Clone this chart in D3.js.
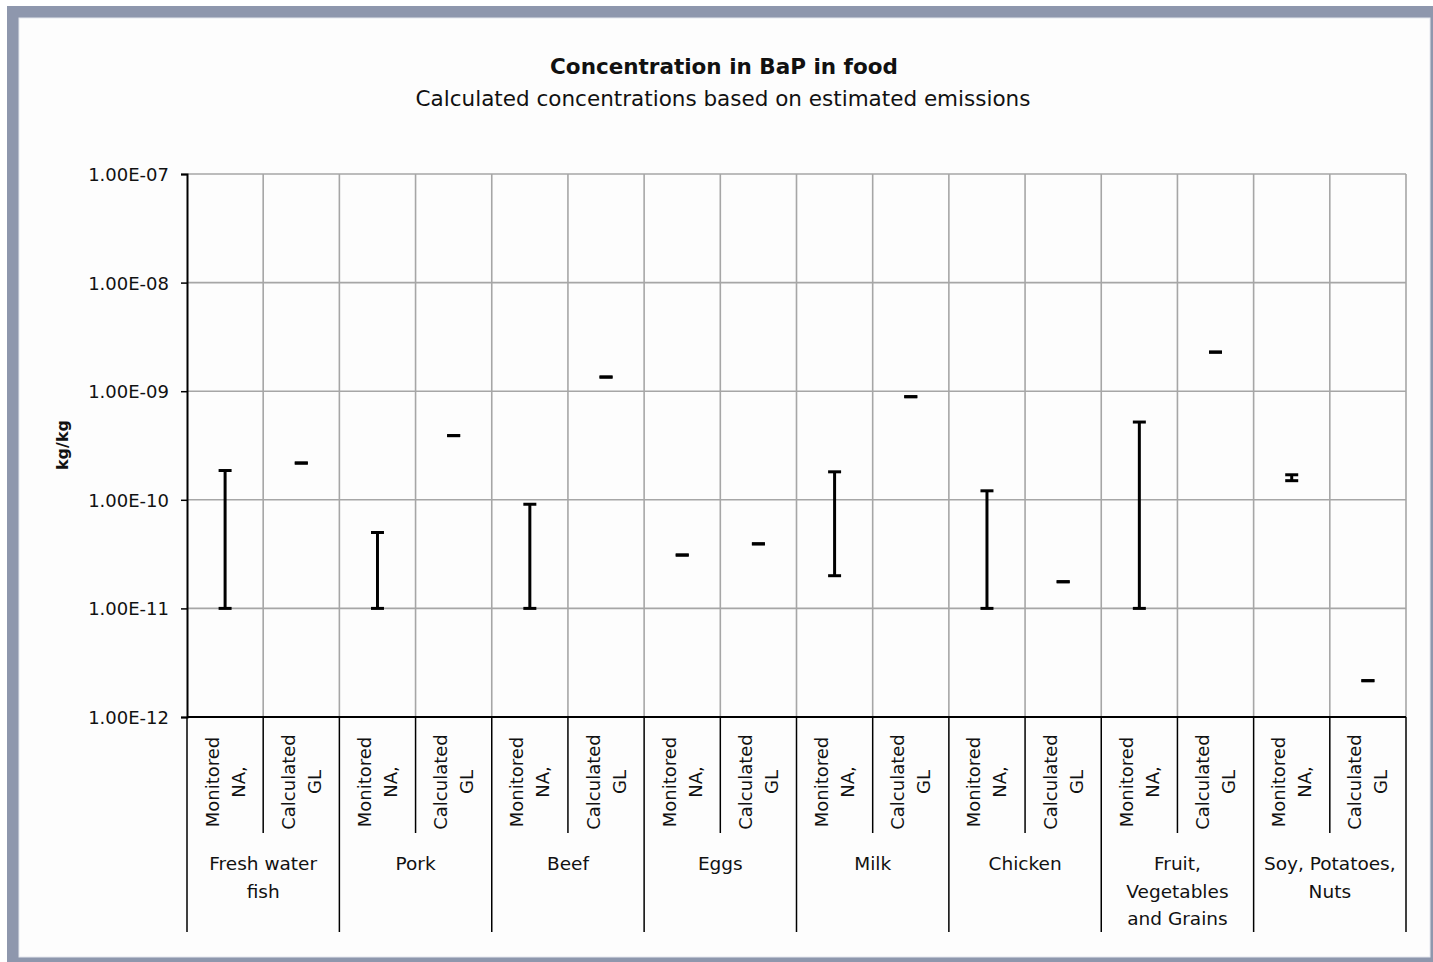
<!DOCTYPE html>
<html>
<head>
<meta charset="utf-8">
<script src="https://cdn.jsdelivr.net/npm/d3@7"></script>
<style>
  html, body { margin: 0; padding: 0; background: #ffffff; }
  svg { display: block; }
  text { font-family: "DejaVu Sans", Verdana, sans-serif; fill: #111; }
</style>
</head>
<body>
<svg id="chart" width="1433" height="962"></svg>
<script>
// Food groups and the wrapped lines of their labels
const categories = ["Fresh water fish", "Pork", "Beef", "Eggs", "Milk", "Chicken",
                    "Fruit, Vegetables and Grains", "Soy, Potatoes, Nuts"];
const categoryLines = [["Fresh water", "fish"], ["Pork"], ["Beef"], ["Eggs"], ["Milk"],
                       ["Chicken"], ["Fruit,", "Vegetables", "and Grains"], ["Soy, Potatoes,", "Nuts"]];
const seriesKeys = ["monitored", "calculated"];
const seriesLines = [["Monitored", "NA,"], ["Calculated", "GL"]];

// Monitored range (North America), kg/kg
const monitoredLow  = [1e-11, 1e-11, 1e-11, 3.1e-11, 2e-11, 1e-11, 1e-11, 1.5e-10];
const monitoredHigh = [1.86e-10, 5.0e-11, 9.1e-11, 3.1e-11, 1.81e-10, 1.21e-10, 5.2e-10, 1.7e-10];
// Calculated concentration (Great Lakes), kg/kg
const calculatedGL  = [2.18e-10, 3.9e-10, 1.35e-9, 3.93e-11, 8.9e-10, 1.76e-11, 2.29e-9, 2.16e-12];

const tickValues = [1e-12, 1e-11, 1e-10, 1e-9, 1e-8, 1e-7];
const tickLabels = ["1.00E-12", "1.00E-11", "1.00E-10", "1.00E-09", "1.00E-08", "1.00E-07"];

const svg = d3.select("#chart");
const W = 1433, H = 962;
const plot = { left: 187, right: 1406, top: 174, bottom: 717 };

// Outer frame
svg.append("rect").attr("x", 7).attr("y", 6).attr("width", W - 7).attr("height", H - 6).attr("fill", "#8e97ad");
svg.append("rect").attr("x", 19).attr("y", 18).attr("width", 1411).attr("height", 939).attr("fill", "#fdfdfd")
   .attr("stroke", "#e4e7ee").attr("stroke-width", 1);

// Titles
svg.append("text").attr("x", 724).attr("y", 74).attr("text-anchor", "middle")
   .attr("font-size", 21.5).attr("font-weight", "bold").text("Concentration in BaP in food");
svg.append("text").attr("x", 723).attr("y", 106).attr("text-anchor", "middle")
   .attr("font-size", 21.5).text("Calculated concentrations based on estimated emissions");

// Scales
const y = d3.scaleLog().domain([1e-12, 1e-7]).range([plot.bottom, plot.top]);
const xCat = d3.scaleBand().domain(categories).range([plot.left, plot.right]).padding(0);
const xSub = d3.scaleBand().domain(seriesKeys).range([0, xCat.bandwidth()]).padding(0);

// Horizontal gridlines
const grid = svg.append("g").attr("stroke", "#a6a6a6").attr("stroke-width", 1.6);
grid.selectAll("line.h").data(tickValues).join("line")
    .attr("x1", plot.left).attr("x2", plot.right)
    .attr("y1", d => y(d)).attr("y2", d => y(d));

// Vertical gridlines at every column boundary
const boundaries = [];
categories.forEach(c => seriesKeys.forEach(s => boundaries.push(xCat(c) + xSub(s) + xSub.bandwidth())));
grid.selectAll("line.v").data(boundaries).join("line")
    .attr("x1", d => d).attr("x2", d => d)
    .attr("y1", plot.top).attr("y2", plot.bottom);

// Y axis
const yAxis = d3.axisLeft(y).tickValues(tickValues)
    .tickFormat((d, i) => tickLabels[i]).tickSize(6).tickPadding(12);
const gy = svg.append("g").attr("transform", `translate(${plot.left},0)`).call(yAxis);
gy.select(".domain").attr("stroke", "#000").attr("stroke-width", 2);
gy.selectAll(".tick line").attr("stroke", "#000").attr("stroke-width", 1.5);
gy.selectAll(".tick text").attr("font-size", 18).attr("font-family", "DejaVu Sans")
   .attr("fill", "#111").attr("dy", "0.36em");

// Axis title
svg.append("text").attr("transform", "translate(68,445) rotate(-90)")
   .attr("text-anchor", "middle").attr("font-size", 16).attr("font-weight", "bold").text("kg/kg");

// X axis baseline
svg.append("line").attr("x1", plot.left).attr("x2", plot.right)
   .attr("y1", plot.bottom).attr("y2", plot.bottom).attr("stroke", "#000").attr("stroke-width", 2);

// Category separators below the axis
const catEdges = categories.map(c => xCat(c)).concat([plot.right]);
svg.append("g").selectAll("line").data(catEdges).join("line")
   .attr("x1", d => d).attr("x2", d => d).attr("y1", plot.bottom).attr("y2", 932)
   .attr("stroke", "#000").attr("stroke-width", 1.5);
// Series separators inside each category
svg.append("g").selectAll("line").data(categories).join("line")
   .attr("x1", c => xCat(c) + xSub("calculated")).attr("x2", c => xCat(c) + xSub("calculated"))
   .attr("y1", plot.bottom).attr("y2", 833)
   .attr("stroke", "#000").attr("stroke-width", 1.5);

// Rotated series labels
const subLabels = svg.append("g");
categories.forEach(c => {
  seriesKeys.forEach((s, si) => {
    const cx = xCat(c) + xSub(s) + xSub.bandwidth() / 2;
    const t = subLabels.append("text")
      .attr("transform", `translate(${cx},782) rotate(-90)`)
      .attr("text-anchor", "middle").attr("font-size", 18);
    seriesLines[si].forEach((line, li) => {
      t.append("tspan").attr("x", 0).attr("y", (li - 0.5) * 26)
       .attr("dominant-baseline", "central").text(line);
    });
  });
});

// Category labels
const catLabels = svg.append("g");
categories.forEach((c, i) => {
  const t = catLabels.append("text").attr("x", xCat(c) + xCat.bandwidth() / 2)
    .attr("text-anchor", "middle").attr("font-size", 18.5);
  categoryLines[i].forEach((line, li) => {
    t.append("tspan").attr("x", xCat(c) + xCat.bandwidth() / 2).attr("y", 870 + li * 27.5).text(line);
  });
});

// Error bars / value markers
const capHalf = 6.5;
const marks = svg.append("g").attr("stroke", "#000").attr("stroke-width", 3).attr("fill", "none");
function drawRange(cx, lo, hi) {
  const g = marks.append("g");
  if (lo !== hi) {
    g.append("line").attr("x1", cx).attr("x2", cx).attr("y1", y(lo)).attr("y2", y(hi));
  }
  [lo, hi].forEach(v => {
    g.append("line").attr("x1", cx - capHalf).attr("x2", cx + capHalf)
     .attr("y1", y(v)).attr("y2", y(v));
  });
}
categories.forEach((c, i) => {
  const mx = xCat(c) + xSub("monitored") + xSub.bandwidth() / 2;
  const gx = xCat(c) + xSub("calculated") + xSub.bandwidth() / 2;
  drawRange(mx, monitoredLow[i], monitoredHigh[i]);
  drawRange(gx, calculatedGL[i], calculatedGL[i]);
});
</script>
</body>
</html>
